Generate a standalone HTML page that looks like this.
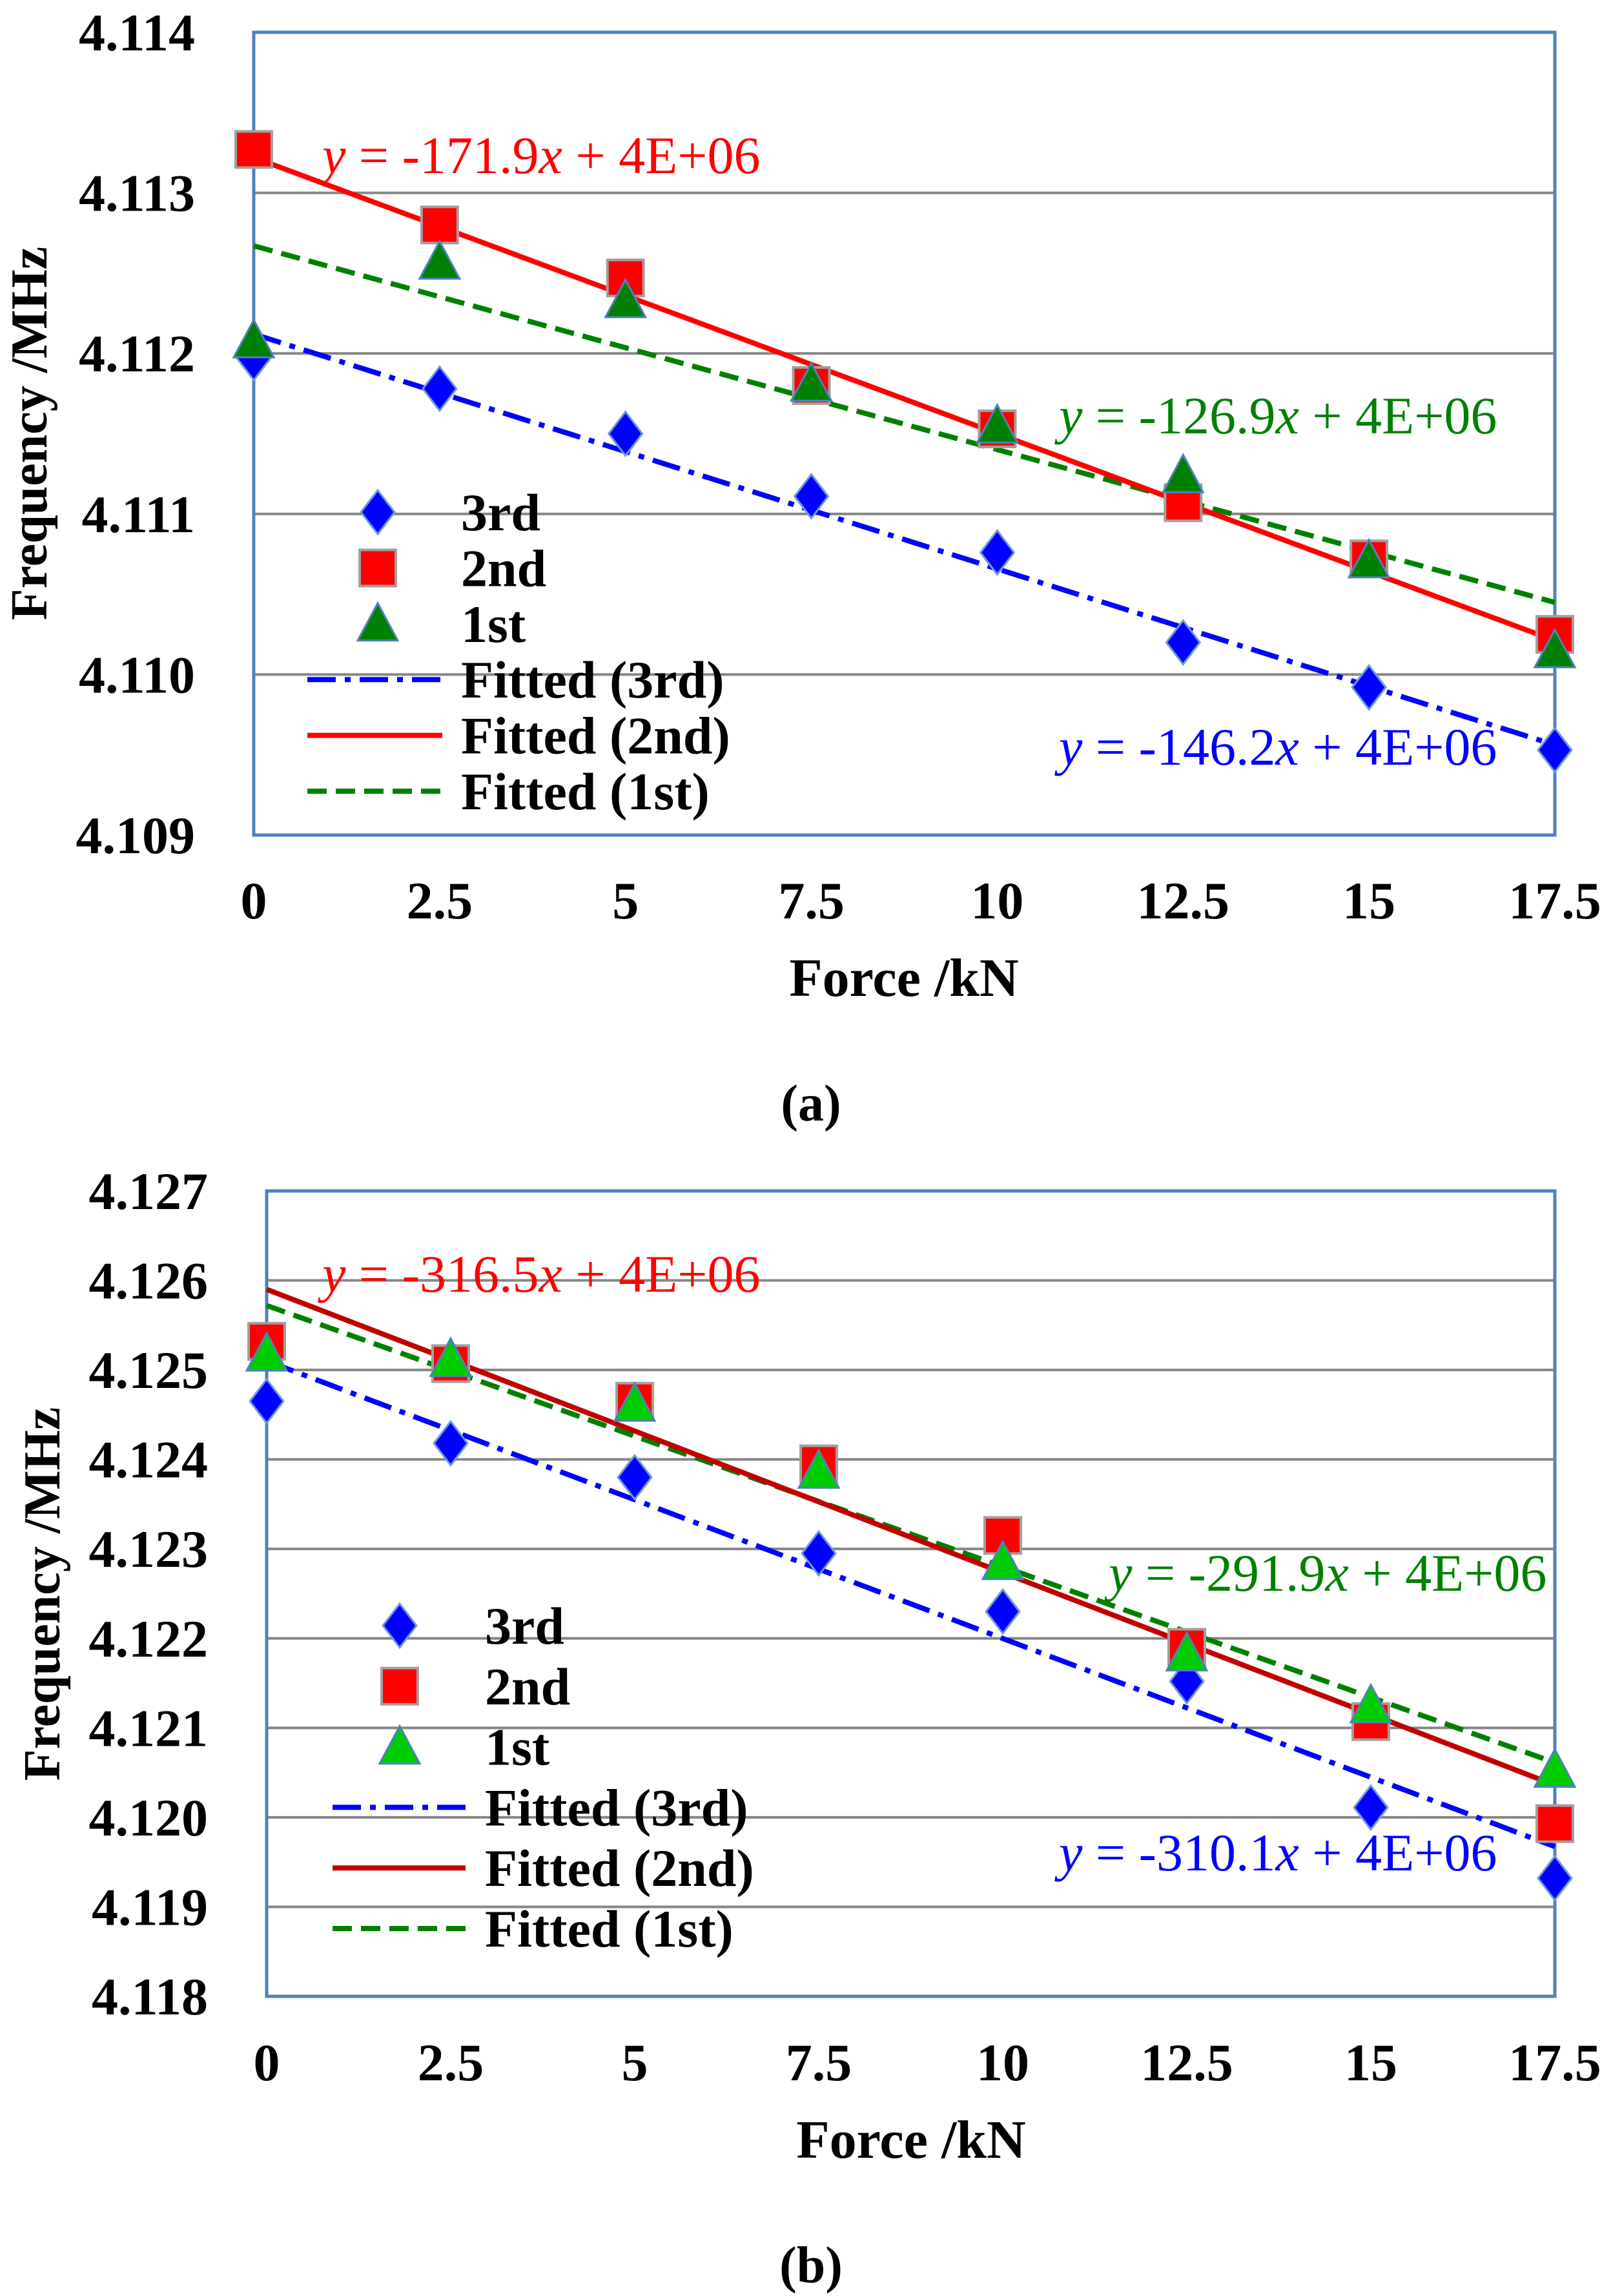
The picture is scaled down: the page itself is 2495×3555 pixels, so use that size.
<!DOCTYPE html>
<html><head><meta charset="utf-8"><style>
html,body{margin:0;padding:0;background:#fff}
svg{display:block}
text{font-family:"Liberation Serif",serif}
</style></head><body>
<svg id="fig" width="2495" height="3555" viewBox="0 0 2495 3555" xmlns="http://www.w3.org/2000/svg"></svg>
<script>
const forces = [0, 2.5, 5, 7.5, 10, 12.5, 15, 17.5];
const xTicks = ["0","2.5","5","7.5","10","12.5","15","17.5"];
const yTicksA = ["4.109","4.110","4.111","4.112","4.113","4.114"];
const yTicksB = ["4.118","4.119","4.120","4.121","4.122","4.123","4.124","4.125","4.126","4.127"];
const a3rd = [4.11197, 4.11178, 4.1115, 4.11111, 4.11076, 4.1102, 4.10992, 4.10953];
const a2nd = [4.11327, 4.1128, 4.11247, 4.1118, 4.11153, 4.11107, 4.11072, 4.11025];
const a1st = [4.11208, 4.11257, 4.11233, 4.11181, 4.11155, 4.11124, 4.11071, 4.11015];
const aFitIntercepts = [4.11212, 4.11322, 4.11267];
const aFitSlopes = [-146.2e-6, -171.9e-6, -126.9e-6];
const b3rd = [4.12465, 4.12418, 4.1238, 4.12295, 4.1223, 4.12152, 4.12011, 4.11932];
const b2nd = [4.12532, 4.12507, 4.12465, 4.12395, 4.12315, 4.1219, 4.12107, 4.11993];
const b1st = [4.12518, 4.12512, 4.12462, 4.12387, 4.12285, 4.12183, 4.12125, 4.12053];
const bFitIntercepts = [4.1251, 4.1259, 4.12572];
const bFitSlopes = [-310.1e-6, -316.5e-6, -291.9e-6];
const aEquations = ["-146.2", "-171.9", "-126.9"];
const bEquations = ["-310.1", "-316.5", "-291.9"];

const NS = "http://www.w3.org/2000/svg";
const svg = document.getElementById('fig');
function mk(tag, attrs, parent){const e=document.createElementNS(NS,tag);for(const k in attrs)e.setAttribute(k,attrs[k]);(parent||svg).appendChild(e);return e;}

function drawChart(c){
  const g = mk('g',{});
  
  
  const ymin=parseFloat(c.yTicks[0]), ymax=parseFloat(c.yTicks[c.yTicks.length-1]);
  const X = v => c.L + (v-0)/(17.5)*(c.R-c.L);
  const Y = v => c.B - (v-ymin)/(ymax-ymin)*(c.B-c.T);
  c.yTicks.forEach(t=>{
    const y=Y(parseFloat(t));
    const ln=mk('line',{x1:c.L,x2:c.R,y1:y,y2:y,stroke:'#868686','stroke-width':4},g);
    
    
    const tx=mk('text',{x:c.yLabelX,y:y+28,'text-anchor':'end','font-size':82,'font-weight':'bold'},g);
    tx.textContent=t;
    
    
  });
  const fr=mk('rect',{x:c.L,y:c.T,width:c.R-c.L,height:c.B-c.T,fill:'none',stroke:'#4F81BD','stroke-width':5},g);
  
  
  forces.forEach((f,i)=>{
    const tx=mk('text',{x:X(f),y:c.xLabelY,'text-anchor':'middle','font-size':82,'font-weight':'bold'},g);
    tx.textContent=xTicks[i];
    
    
  });
  const xt=mk('text',{x:c.xTitleX,y:c.xTitleY,'text-anchor':'middle','font-size':84,'font-weight':'bold'},g);
  xt.textContent='Force /kN';
  
  
  const yt=mk('text',{x:0,y:0,'text-anchor':'middle','font-size':80,'font-weight':'bold',transform:`translate(${c.yTitleX},${c.yTitleY}) rotate(-90)`},g);
  yt.textContent='Frequency /MHz';
  
  
  const cap=mk('text',{x:1256,y:c.capY,'text-anchor':'middle','font-size':80,'font-weight':'bold'},g);
  cap.textContent=c.caption;
  
  
  const fitStyles=[{s:'#0000FF',d:'44 14 9 14'},{s:c.redLine,d:''},{s:'#008000',d:'30 14'}];
  const fitNames=['fit-line-3rd','fit-line-2nd','fit-line-1st'];
  [0,2,1].forEach(k=>{
    const x0=forces[0],x1=forces[forces.length-1];
    const ln=mk('line',{x1:X(x0),y1:Y(c.icp[k]+c.slope[k]*x0),x2:X(x1),y2:Y(c.icp[k]+c.slope[k]*x1),stroke:fitStyles[k].s,'stroke-width':8},g);
    if(fitStyles[k].d) ln.setAttribute('stroke-dasharray',fitStyles[k].d);
    
    
  });
  const diamond=(x,y,p)=>mk('polygon',{points:`${x},${y-34} ${x+26},${y} ${x},${y+34} ${x-26},${y}`,fill:'#0000FF',stroke:'#6F9BD8','stroke-width':3},p);
  const square=(x,y,p)=>mk('rect',{x:x-28,y:y-28,width:56,height:56,fill:'#FF0000',stroke:'#A0A0A0','stroke-width':4},p);
  const tri=(x,y,p)=>mk('polygon',{points:`${x},${y-32} ${x+31},${y+26} ${x-31},${y+26}`,fill:c.triFill,stroke:'#4F81BD','stroke-width':3},p);
  c.s3.forEach((v,i)=>{const e=diamond(X(forces[i]),Y(v),g);});
  c.s2.forEach((v,i)=>{const e=square(X(forces[i]),Y(v),g);});
  c.s1.forEach((v,i)=>{const e=tri(X(forces[i]),Y(v),g);});
  const eqCols=['#0000FF','#FF0000','#008000'];
  const eqNames=['equation-3rd','equation-2nd','equation-1st'];
  [0,1,2].forEach(k=>{
    const t=mk('text',{x:c.eqPos[k][0],y:c.eqPos[k][1],'font-size':82,fill:eqCols[k]},g);
    t.innerHTML=`<tspan font-style="italic">y</tspan> = ${c.eq[k]}<tspan font-style="italic">x</tspan> + 4E+06`;
    
    
  });
  const lg=mk('g',{},g);
  
  
  const labels=['3rd','2nd','1st','Fitted (3rd)','Fitted (2nd)','Fitted (1st)'];
  labels.forEach((lab,i)=>{
    const by=c.legY+i*c.legDy, my=by-28;
    let m;
    if(i===0) m=diamond(c.legMX,my,lg);
    else if(i===1) m=square(c.legMX,my,lg);
    else if(i===2) m=tri(c.legMX,my,lg);
    else {
      const st=fitStyles[i-3];
      m=mk('line',{x1:c.legL1,x2:c.legL2,y1:my,y2:my,stroke:st.s,'stroke-width':8},lg);
      if(st.d) m.setAttribute('stroke-dasharray',st.d);
    }
    
    
    const t=mk('text',{x:c.legTX,y:by,'font-size':82,'font-weight':'bold'},lg);
    t.textContent=lab;
    
    
  });
}

drawChart({name:'chart-a',L:393,R:2408,T:50,B:1293,yTicks:yTicksA,yLabelX:302,xLabelY:1422,xTitleX:1400,xTitleY:1542,yTitleX:72,yTitleY:671,capY:1735,caption:'(a)',
  s3:a3rd,s2:a2nd,s1:a1st,icp:aFitIntercepts,slope:aFitSlopes,eq:aEquations,redLine:'#FF0000',triFill:'#008000',
  eqPos:[[1640,1184],[499,268],[1640,671]],legY:821,legDy:86.4,legMX:585,legTX:714,legL1:476,legL2:685});
drawChart({name:'chart-b',L:413,R:2408,T:1844,B:3091,yTicks:yTicksB,yLabelX:322,xLabelY:3221,xTitleX:1411,xTitleY:3341,yTitleX:92,yTitleY:2468,capY:3534,caption:'(b)',
  s3:b3rd,s2:b2nd,s1:b1st,icp:bFitIntercepts,slope:bFitSlopes,eq:bEquations,redLine:'#C00000',triFill:'#00CC00',
  eqPos:[[1640,2896],[499,2000],[1717,2463]],legY:2545,legDy:93.8,legMX:619,legTX:751,legL1:515,legL2:721});
</script>
</body></html>
